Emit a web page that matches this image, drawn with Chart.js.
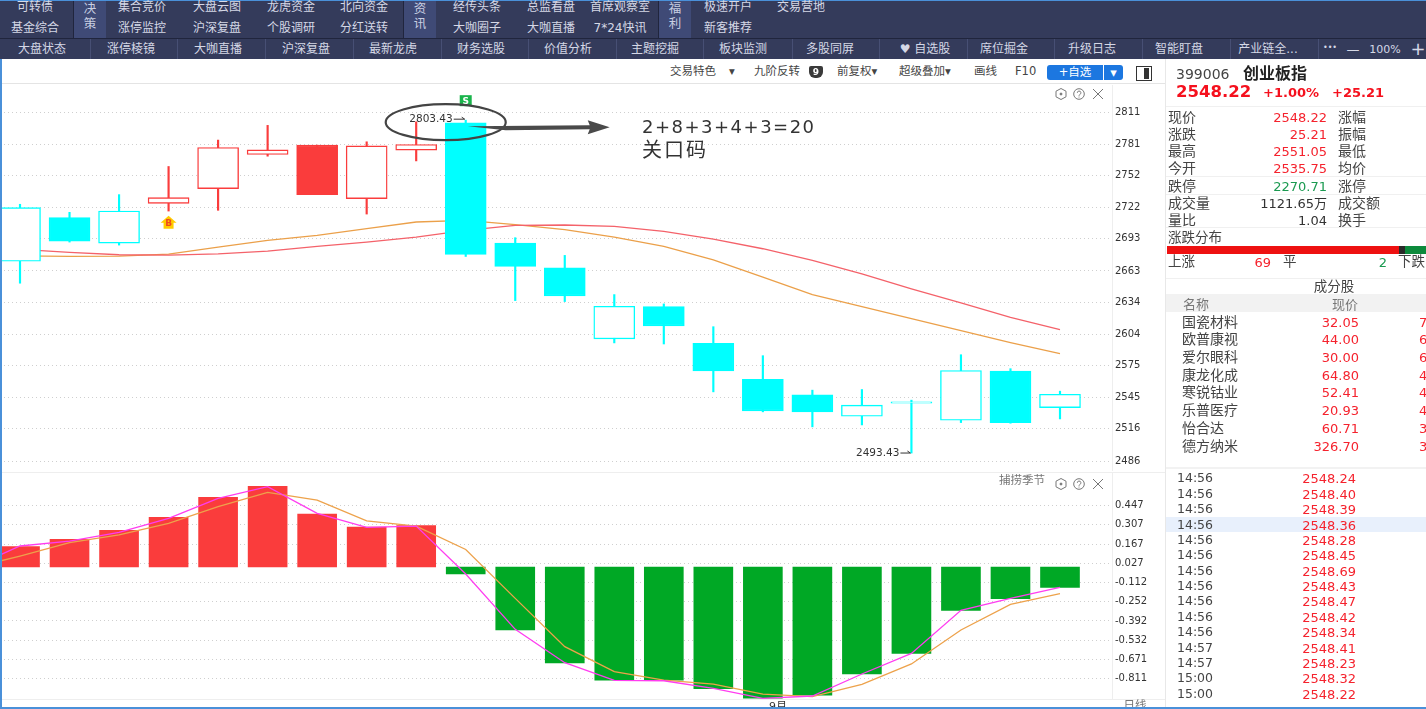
<!DOCTYPE html>
<html lang="zh">
<head>
<meta charset="utf-8">
<title>创业板指</title>
<script src="https://cdn.jsdelivr.net/npm/chart.js@4"></script>
<style>
    html, body { margin: 0; padding: 0; background: #fff; overflow: hidden; }
    #page { position: relative; width: 1426px; height: 709px; overflow: hidden; background: #fff;
        font-family: "DejaVu Sans", "Noto Sans CJK SC", sans-serif; color: #333; }
    .box { position: absolute; }
    .t { position: absolute; white-space: nowrap; line-height: 1; transform: translateY(-50%); }
    canvas { position: absolute; left: 0; display: block; }
</style>
</head>
<body>
<div id="page">
    <canvas id="kline" width="1165" height="386" style="top:85px"></canvas>
    <canvas id="macd" width="1165" height="228" style="top:472px"></canvas>
</div>

<script>
// 日K
const opens = [2672.1, 2712.7, 2689.0, 2726.0, 2739.7, 2771.5, 2780.2, 2730.4, 2775.5, 2801.0, 2689.0, 2666.0, 2599.7, 2629.8, 2595.5, 2562.0, 2547.6, 2527.7, 2539.9, 2524.0, 2569.8, 2535.75];
const closes = [2722.0, 2690.8, 2718.8, 2731.3, 2778.0, 2775.8, 2734.1, 2779.5, 2780.8, 2678.4, 2667.2, 2639.8, 2630.1, 2611.8, 2570.0, 2532.7, 2531.8, 2538.0, 2541.1, 2570.3, 2521.8, 2548.22];
const highs = [2725.1, 2717.6, 2734.1, 2760.3, 2784.9, 2798.6, 2780.2, 2783.3, 2801.9, 2803.43, 2694.0, 2677.5, 2641.0, 2632.3, 2611.1, 2584.1, 2552.0, 2552.6, 2542.7, 2585.0, 2572.0, 2551.05];
const lows = [2651.6, 2689.9, 2687.1, 2718.8, 2719.5, 2769.9, 2734.1, 2716.0, 2765.5, 2676.5, 2635.4, 2634.5, 2596.0, 2595.0, 2550.4, 2531.8, 2517.8, 2519.6, 2493.43, 2521.8, 2521.2, 2525.2];
const redDays = [3, 4, 5, 6, 7, 8];
const maRed = [2683.1, 2680.3, 2678.1, 2677.7, 2679.0, 2681.5, 2685.9, 2689.9, 2694.5, 2700.8, 2705.5, 2705.8, 2704.5, 2699.9, 2692.7, 2683.7, 2672.8, 2660.4, 2646.4, 2633.3, 2619.8, 2608.3];
const maOrange = [2677.0, 2676.5, 2676.8, 2678.7, 2685.2, 2691.5, 2696.1, 2702.4, 2708.6, 2710.1, 2706.1, 2701.5, 2694.5, 2685.9, 2673.4, 2657.2, 2641.0, 2629.8, 2618.6, 2607.4, 2596.2, 2586.0];
const priceTicks = [2811, 2781, 2752, 2722, 2693, 2663, 2634, 2604, 2575, 2545, 2516, 2486];

// 捕捞季节
const macdBars = [0.148, 0.201, 0.267, 0.361, 0.507, 0.587, 0.385, 0.291, 0.301, -0.051, -0.458, -0.698, -0.822, -0.822, -0.885, -0.953, -0.931, -0.778, -0.628, -0.315, -0.230, -0.148];
const linePink = [0.153, 0.189, 0.252, 0.354, 0.499, 0.584, 0.390, 0.288, 0.298, -0.051, -0.453, -0.696, -0.824, -0.827, -0.882, -0.955, -0.938, -0.778, -0.628, -0.315, -0.228, -0.148];
const lineOrange = [0.080, 0.177, 0.233, 0.318, 0.439, 0.543, 0.487, 0.335, 0.298, 0.128, -0.228, -0.579, -0.761, -0.822, -0.851, -0.924, -0.943, -0.853, -0.705, -0.458, -0.272, -0.194];
const prevPink = -0.010;
const prevOrange = -0.010;
const macdTicks = [0.447, 0.307, 0.167, 0.027, -0.112, -0.252, -0.392, -0.532, -0.671, -0.811];

// 右侧面板
const quoteLeft = [['现价', '2548.22', '#f5222d'], ['涨跌', '25.21', '#f5222d'], ['最高', '2551.05', '#f5222d'], ['今开', '2535.75', '#f5222d'], ['跌停', '2270.71', '#1a9a50'], ['成交量', '1121.65万', '#333'], ['量比', '1.04', '#333']];
const quoteRight = ['涨幅', '振幅', '最低', '均价', '涨停', '成交额', '换手'];
const stockNames = ['国瓷材料', '欧普康视', '爱尔眼科', '康龙化成', '寒锐钴业', '乐普医疗', '怡合达', '德方纳米'];
const stockPrices = ['32.05', '44.00', '30.00', '64.80', '52.41', '20.93', '60.71', '326.70'];
const stockClipped = ['7', '6', '6', '4', '4', '4', '3', '3'];
const tickTimes = ['14:56', '14:56', '14:56', '14:56', '14:56', '14:56', '14:56', '14:56', '14:56', '14:56', '14:56', '14:57', '14:57', '15:00', '15:00'];
const tickPrices = ['2548.24', '2548.40', '2548.39', '2548.36', '2548.28', '2548.45', '2548.69', '2548.43', '2548.47', '2548.42', '2548.34', '2548.41', '2548.23', '2548.32', '2548.22'];

// 顶部导航
const navRow1 = [['可转债', 35], ['集合竞价', 142], ['大盘云图', 217], ['龙虎资金', 291], ['北向资金', 364], ['经传头条', 477], ['总监看盘', 551], ['首席观察室', 620], ['极速开户', 728], ['交易营地', 801]];
const navRow2 = [['基金综合', 35], ['涨停监控', 142], ['沪深复盘', 217], ['个股调研', 291], ['分红送转', 364], ['大咖圈子', 477], ['大咖直播', 551], ['7*24快讯', 620], ['新客推荐', 728]];
const navBlocks = [['决', '策', 74], ['资', '讯', 404], ['福', '利', 659]];
const navRow3 = [['大盘状态', 42], ['涨停棱镜', 131], ['大咖直播', 218], ['沪深复盘', 306], ['最新龙虎', 393], ['财务选股', 481], ['价值分析', 568], ['主题挖掘', 655], ['板块监测', 743], ['多股同屏', 830], ['♥ 自选股', 925], ['席位掘金', 1004], ['升级日志', 1092], ['智能盯盘', 1179], ['产业链全...', 1268]];
const navSeparators = [90, 177, 265, 353, 441, 528, 616, 703, 792, 879, 967, 1054, 1142, 1230, 1318];
const toolItems = [['交易特色', 670], ['▾', 729], ['九阶反转', 754], ['前复权▾', 837], ['超级叠加▾', 899], ['画线', 974], ['F10', 1015]];

const page = document.getElementById('page');

function box(x, y, w, h, color) {
    const el = document.createElement('div');
    el.className = 'box';
    el.style.cssText = `left:${x}px;top:${y}px;width:${w}px;height:${h}px;background:${color}`;
    page.appendChild(el);
    return el;
}

function text(str, x, y, size, color, align, bold) {
    const el = document.createElement('div');
    el.className = 't';
    el.textContent = str;
    let css = `top:${y}px;font-size:${size}px;color:${color};`;
    if (align === 'right') css += `right:${1426 - x}px;`;
    else if (align === 'center') css += `left:${x}px;transform:translate(-50%,-50%);`;
    else css += `left:${x}px;`;
    if (bold) css += 'font-weight:bold;';
    el.style.cssText = css;
    page.appendChild(el);
    return el;
}

function icons(x, y) {
    const el = document.createElement('div');
    el.className = 'box';
    el.style.cssText = `left:${x}px;top:${y}px;width:52px;height:12px`;
    el.innerHTML = '<svg width="52" height="12" fill="none" stroke="#777" stroke-width="1">' +
        '<polygon points="6,0.5 11,3.2 11,8.8 6,11.5 1,8.8 1,3.2"/><circle cx="6" cy="6" r="1" fill="#777"/>' +
        '<circle cx="24" cy="6" r="5.3"/><path d="M22.3 4.8a1.8 1.8 0 1 1 2.5 1.7q-.8.4-.8 1.2M24 8.6v.9"/>' +
        '<path d="M38 1l10 10M48 1l-10 10"/></svg>';
    page.appendChild(el);
}

// 导航栏
box(0, 0, 1426, 59, '#343b5b');
box(0, 0, 1426, 1, '#4a90d9');
box(0, 38, 1426, 1, '#20253d');
navBlocks.forEach(b => {
    box(b[2], 1, 32, 37, '#3f4a76');
    box(b[2] - 1, 1, 1, 37, '#20253d');
    text(b[0], b[2] + 16, 9, 12.5, '#c9cfe2', 'center');
    text(b[1], b[2] + 16, 24, 12.5, '#c9cfe2', 'center');
});
navRow1.forEach(n => text(n[0], n[1], 7, 12, '#d5d8e6', 'center'));
navRow2.forEach(n => text(n[0], n[1], 27.5, 12, '#d5d8e6', 'center'));
navRow3.forEach(n => text(n[0], n[1], 49, 12, '#d5d8e6', 'center'));
navSeparators.forEach(x => box(x, 39, 1, 20, '#474f74'));
text('•••', 1330, 48, 8, '#d5d8e6', 'center');
text('—', 1353, 49, 13, '#d5d8e6', 'center');
text('100%', 1385, 49, 11, '#d5d8e6', 'center');
text('+', 1418, 49, 18, '#d5d8e6', 'center');

// 工具栏
toolItems.forEach(n => text(n[0], n[1], 72, 11.5, '#444'));
const nineBadge = text('9', 816, 72, 9, '#fff', 'center', true);
nineBadge.style.zIndex = 2;
box(809, 66, 14, 12, '#3a3a3a').style.borderRadius = '2px 2px 6px 6px';
box(1047, 65, 56, 15, '#1c77e0').style.borderRadius = '3px 0 0 3px';
text('+自选', 1075, 72.5, 11.5, '#fff', 'center');
box(1104, 65, 19, 15, '#1c77e0').style.borderRadius = '0 3px 3px 0';
text('▾', 1113.5, 72, 13, '#fff', 'center');
const panelIcon = box(1136, 66, 14, 13, '#fff');
panelIcon.style.border = '1.5px solid #333';
box(1144, 68, 5, 11, '#333');
box(0, 83, 1165, 1, '#e4e4e4');

// 指标区标题
icons(1055, 85);
icons(1055, 475);
text('捕捞季节', 999, 481, 11.5, '#777');
box(0, 472, 1165, 1, '#eeeeee');
box(0, 699, 1165, 1, '#eeeeee');
text('9月', 778, 706, 11, '#333', 'center');
text('日线', 1135, 706, 11.5, '#777', 'center');

// 右侧面板
box(1165, 59, 1, 648, '#e8e8e8');
text('399006', 1176, 74, 14, '#444');
text('创业板指', 1243, 74, 16, '#222', 'left', true);
text('2548.22', 1176, 92, 16.5, '#f5101d', 'left', true);
text('+1.00%', 1263, 92, 13, '#f5101d', 'left', true);
text('+25.21', 1332, 92, 13, '#f5101d', 'left', true);
[106, 176, 194, 227, 278].forEach(y => box(1166, y, 260, 1, '#f0f0f0'));
const quoteY = [117, 134, 151, 168, 185.5, 203, 220];
quoteLeft.forEach((q, i) => {
    text(q[0], 1168, quoteY[i], 14, '#444');
    text(q[1], 1327, quoteY[i], 13, q[2], 'right');
    text(quoteRight[i], 1338, quoteY[i], 14, '#444');
});
text('涨跌分布', 1168, 238, 13.5, '#444');
box(1167, 246, 232, 8, '#ee1111');
box(1399, 246, 6, 8, '#2a2a2a');
box(1405, 246, 21, 8, '#0d8a3c');
text('上涨', 1168, 262, 13.5, '#444');
text('69', 1271, 262, 13, '#f5222d', 'right');
text('平', 1283, 262, 13.5, '#444');
text('2', 1387, 262, 13, '#1a9a50', 'right');
text('下跌', 1398, 262, 13.5, '#444');
text('成分股', 1334, 287, 13.5, '#444', 'center');
box(1166, 294, 260, 18, '#f2f2f2');
text('名称', 1183, 304, 13, '#777');
text('现价', 1358, 304, 13, '#777', 'right');
const stockY = [321.5, 339, 357, 374.5, 392, 410, 427.5, 445.5];
stockNames.forEach((n, i) => {
    text(n, 1182, stockY[i], 14, '#444');
    text(stockPrices[i], 1359, stockY[i], 13, '#f5222d', 'right');
    text(stockClipped[i], 1419, stockY[i], 13, '#f5222d');
});
box(1166, 467, 260, 2, '#f2f2f2');
box(1166, 517, 260, 15, '#e8f0fc');
const tickY = [478, 493.5, 509, 524.5, 540, 555, 570.5, 586, 601, 617, 632, 647.5, 663, 678, 693.5];
tickTimes.forEach((t, i) => {
    text(t, 1177, tickY[i], 12.5, '#444');
    text(tickPrices[i], 1356, tickY[i], 13, '#f5222d', 'right');
});

// 手写批注
text('2+8+3+4+3=20', 642, 127, 18, '#333').style.letterSpacing = '1.5px';
text('关口码', 642, 150, 20, '#333').style.letterSpacing = '2px';

// 边框
box(0, 59, 2, 650, '#4a90d9');
box(0, 707, 1426, 2, '#4a90d9');

const UP = '#fa3c3c';
const DOWN = '#00ffff';
const isRed = i => redDays.includes(i);
const isHollow = i => closes[i] >= opens[i];
const candleColor = i => (isRed(i) ? UP : DOWN);
const indexes = opens.map((_, i) => i);

// 用价格坐标画最高最低价标注和买卖点
const klineNotes = {
    id: 'klineNotes',
    afterDatasetsDraw(chart) {
        const { ctx, scales: { x, y } } = chart;
        const hx = x.getPixelForValue(9);
        const hy = y.getPixelForValue(2803.43);
        const lx = x.getPixelForValue(18);
        const ly = y.getPixelForValue(2493.43);

        ctx.save();
        ctx.font = '10.5px "DejaVu Sans"';
        ctx.fillStyle = '#333';
        ctx.textBaseline = 'middle';
        ctx.textAlign = 'right';
        ctx.fillText('2803.43', hx - 13, hy - 1);
        ctx.fillText('2493.43', lx - 12, ly);
        ctx.strokeStyle = '#333';
        ctx.lineWidth = 1;
        [[hx - 12, hx - 1, hy - 1], [lx - 11, lx - 1, ly]].forEach(a => {
            ctx.beginPath();
            ctx.moveTo(a[0], a[2]);
            ctx.lineTo(a[1], a[2]);
            ctx.moveTo(a[1] - 3, a[2] - 2);
            ctx.lineTo(a[1], a[2]);
            ctx.stroke();
        });

        // S
        ctx.fillStyle = '#19b44b';
        ctx.fillRect(hx - 6, hy - 25, 12, 11);
        ctx.fillStyle = '#fff';
        ctx.font = 'bold 9px "DejaVu Sans"';
        ctx.textAlign = 'center';
        ctx.fillText('S', hx, hy - 19);

        // B
        const bx = x.getPixelForValue(3);
        const by = y.getPixelForValue(2708);
        ctx.fillStyle = '#ffcc00';
        ctx.beginPath();
        ctx.moveTo(bx - 8, by);
        ctx.lineTo(bx, by - 7);
        ctx.lineTo(bx + 8, by);
        ctx.lineTo(bx + 5, by);
        ctx.lineTo(bx + 5, by + 6);
        ctx.lineTo(bx - 5, by + 6);
        ctx.lineTo(bx - 5, by);
        ctx.closePath();
        ctx.fill();
        ctx.fillStyle = '#f04a1e';
        ctx.fillText('B', bx, by + 1);

        // 圈和箭头
        ctx.strokeStyle = '#444';
        ctx.lineWidth = 2.2;
        ctx.beginPath();
        ctx.ellipse(hx - 20, hy + 2, 60, 18, 0, 0, Math.PI * 2);
        ctx.stroke();
        ctx.fillStyle = '#4a4a4a';
        ctx.beginPath();
        ctx.moveTo(hx + 2, hy + 6);
        ctx.lineTo(hx + 124, hy + 5);
        ctx.lineTo(hx + 122, hy);
        ctx.lineTo(hx + 144, hy + 7);
        ctx.lineTo(hx + 122, hy + 14);
        ctx.lineTo(hx + 124, hy + 9);
        ctx.lineTo(hx + 40, hy + 10);
        ctx.closePath();
        ctx.fill();
        ctx.restore();
    }
};

const sharedX = {
    type: 'linear',
    display: false,
    offset: false,
    min: -0.404,
    max: 22.05,
    grid: { display: false }
};

function rightAxis(min, max, tickValues, format) {
    return {
        type: 'linear',
        position: 'right',
        min: min,
        max: max,
        afterBuildTicks: scale => { scale.ticks = tickValues.map(v => ({ value: v })); },
        afterFit: scale => {
            scale.width = 53;
            scale.paddingTop = 0;
            scale.paddingBottom = 0;
        },
        grid: { color: '#cfcfcf', tickLength: 0 },
        border: { color: '#eeeeee', dash: [1, 3] },
        ticks: {
            autoSkip: false,
            padding: 3,
            color: '#333',
            font: { family: '"DejaVu Sans"', size: 10 },
            callback: format
        }
    };
}

const baseOptions = {
    responsive: false,
    animation: false,
    events: [],
    layout: { padding: 0 },
    plugins: { legend: { display: false }, tooltip: { enabled: false } }
};

new Chart(document.getElementById('kline').getContext('2d'), {
    type: 'bar',
    data: {
        datasets: [
            {
                label: '实体',
                order: 1,
                grouped: false,
                barThickness: 41,
                data: indexes.map(i => ({ x: i, y: [opens[i], closes[i]] })),
                backgroundColor: indexes.map(i => (isHollow(i) ? '#fff' : candleColor(i))),
                borderColor: indexes.map(candleColor),
                borderWidth: 1.4,
                borderSkipped: false
            },
            {
                type: 'line',
                label: 'MA红',
                order: 2,
                data: indexes.map(i => ({ x: i, y: maRed[i] })),
                borderColor: '#f4626a',
                borderWidth: 1.3,
                pointRadius: 0,
                tension: 0
            },
            {
                type: 'line',
                label: 'MA橙',
                order: 2,
                data: indexes.map(i => ({ x: i, y: maOrange[i] })),
                borderColor: '#eba04a',
                borderWidth: 1.3,
                pointRadius: 0,
                tension: 0
            },
            {
                label: '影线',
                order: 3,
                grouped: false,
                barThickness: 1.5,
                data: indexes.map(i => ({ x: i, y: [lows[i], highs[i]] })),
                backgroundColor: indexes.map(candleColor),
                borderWidth: 0
            }
        ]
    },
    options: Object.assign({}, baseOptions, {
        scales: {
            x: sharedX,
            y: rightAxis(2476.7, 2836.2, priceTicks, v => String(v))
        }
    }),
    plugins: [klineNotes]
});

new Chart(document.getElementById('macd').getContext('2d'), {
    type: 'bar',
    data: {
        datasets: [
            {
                type: 'line',
                label: '快线',
                order: 1,
                data: [{ x: -1, y: prevPink }].concat(indexes.map(i => ({ x: i, y: linePink[i] }))),
                borderColor: '#ff3df0',
                borderWidth: 1.3,
                pointRadius: 0,
                tension: 0
            },
            {
                type: 'line',
                label: '慢线',
                order: 1,
                data: [{ x: -1, y: prevOrange }].concat(indexes.map(i => ({ x: i, y: lineOrange[i] }))),
                borderColor: '#eda24b',
                borderWidth: 1.3,
                pointRadius: 0,
                tension: 0
            },
            {
                label: '柱',
                order: 2,
                barThickness: 39,
                data: indexes.map(i => ({ x: i, y: macdBars[i] })),
                backgroundColor: macdBars.map(v => (v >= 0 ? '#fa3c3c' : '#00a825')),
                borderWidth: 0
            }
        ]
    },
    options: Object.assign({}, baseOptions, {
        scales: {
            x: sharedX,
            y: rightAxis(-0.967, 0.691, macdTicks, v => v.toFixed(3))
        }
    })
});
</script>
</body>
</html>
